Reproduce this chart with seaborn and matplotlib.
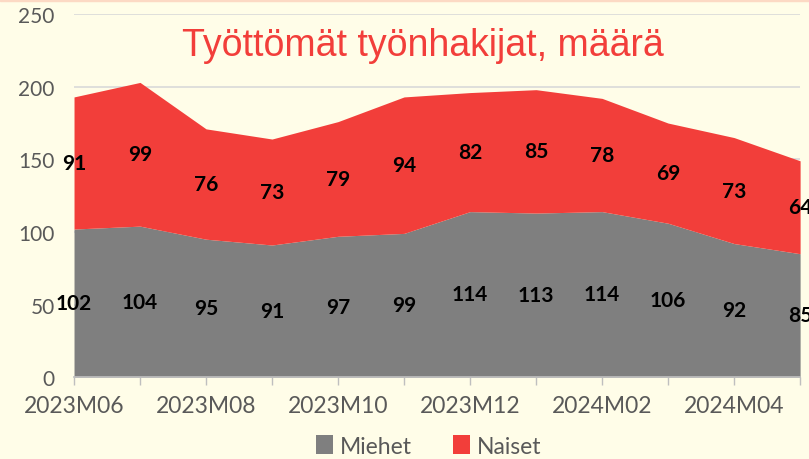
import matplotlib
matplotlib.use("Agg")
import matplotlib.pyplot as plt
import seaborn as sns

# Data
months = ["2023M06", "2023M07", "2023M08", "2023M09", "2023M10", "2023M11",
          "2023M12", "2024M01", "2024M02", "2024M03", "2024M04", "2024M05"]
miehet = [102, 104, 95, 91, 97, 99, 114, 113, 114, 106, 92, 85]
naiset = [91, 99, 76, 73, 79, 94, 82, 85, 78, 69, 73, 64]

bg = "#FFFDE8"
gray = "#7F7F7F"
red = "#F23E3A"
txt = "#595959"

# Style
sns.set_theme(style="white")
plt.rcParams["font.family"] = ["Lato", "DejaVu Sans"]

fig = plt.figure(figsize=(8.09, 4.6), dpi=100, facecolor=bg)
ax = fig.add_axes([0.0915, 0.178, 0.8975, 0.789])
ax.set_facecolor(bg)

x = list(range(len(months)))
ax.stackplot(x, miehet, naiset, colors=[gray, red], labels=["Miehet", "Naiset"],
             linewidth=0)

ax.set_xlim(0, len(months) - 1)
ax.set_ylim(0, 250)
ax.set_yticks(range(0, 251, 50))
ax.yaxis.grid(True, color="#D9D9D9", linewidth=1.2)
ax.set_axisbelow(True)
ax.tick_params(axis="y", length=0, labelsize=15, labelcolor=txt, pad=14)

ax.set_xticks(x, minor=True)
ax.set_xticks(x[::2])
ax.set_xticklabels(months[::2])
ax.tick_params(axis="x", which="both", length=6, color="#BFBFBF", width=1,
               labelsize=16.5, labelcolor=txt, pad=7, bottom=True)

sns.despine(ax=ax, left=True, top=True, right=True)
ax.spines["bottom"].set_color("#BFBFBF")

# data labels (the last column is cut at the right edge, like in the original)
for i in x:
    ax.text(i, miehet[i] / 2, str(miehet[i]), ha="center", va="center",
            fontsize=15, fontweight="bold", color="black", clip_on=False)
    ax.text(i, miehet[i] + naiset[i] / 2, str(naiset[i]), ha="center", va="center",
            fontsize=15, fontweight="bold", color="black", clip_on=False)

ax.text(0.48, 0.915, "Työttömät työnhakijat, määrä", transform=ax.transAxes,
        ha="center", va="center", fontsize=27, color=red,
        family=["Liberation Sans", "DejaVu Sans"])

leg = fig.legend(loc="lower center", bbox_to_anchor=(0.53, -0.04), ncol=2,
                 frameon=False, fontsize=16.5, handlelength=0.75, handleheight=0.9,
                 handletextpad=0.3, columnspacing=1.8)
for t in leg.get_texts():
    t.set_color(txt)

# thin top border strip
fig.patches.append(plt.Rectangle((0, 0.995), 1, 0.005, transform=fig.transFigure,
                                 color="#FCD9C4", zorder=10))

fig.savefig("out.png", dpi=100, facecolor=bg)
